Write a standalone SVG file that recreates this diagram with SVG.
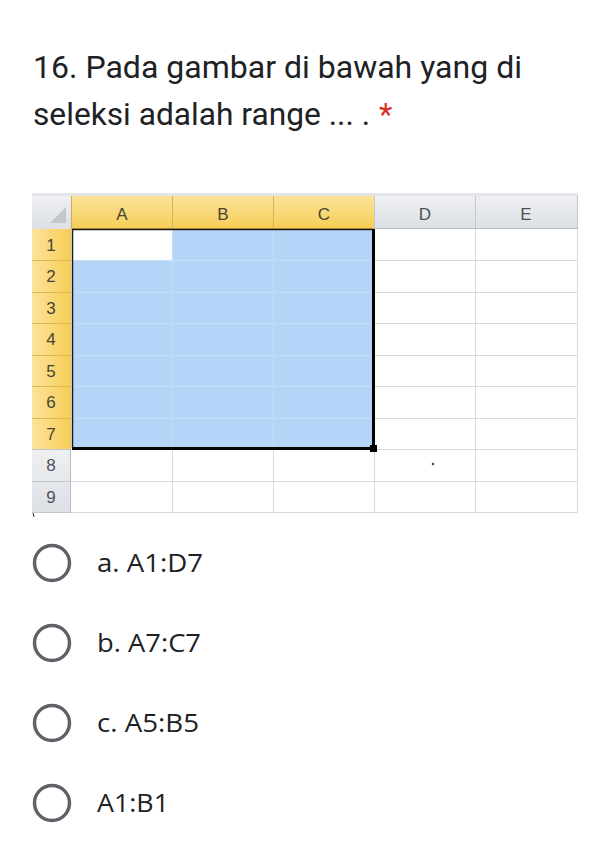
<svg xmlns="http://www.w3.org/2000/svg" width="605" height="853" viewBox="0 0 605 853">
<defs>
<style>
.q{font-family:Roboto,"Noto Sans",sans-serif;font-size:31px;fill:#202124}
.opt{font-family:"Open Sans","Noto Sans",sans-serif;font-size:25px;fill:#202124}
.radio{fill:none;stroke:#5f6368;stroke-width:3.5}
.hd{font-family:"Liberation Sans",Arial,sans-serif;font-size:17px;text-anchor:middle}
.hy{fill:#4a4433}
.hg{fill:#4d5159}
.grid{stroke:#d9dadc;stroke-width:1}
.sgrid{stroke:#c6def6;stroke-width:1}
</style>
<linearGradient id="gy" x1="0" y1="0" x2="0" y2="1">
<stop offset="0" stop-color="#fbe39a"/>
<stop offset="1" stop-color="#f6cd55"/>
</linearGradient>
<linearGradient id="gyr" x1="0" y1="0" x2="1" y2="0">
<stop offset="0" stop-color="#fbe39a"/>
<stop offset="1" stop-color="#f6cd55"/>
</linearGradient>
<linearGradient id="gg" x1="0" y1="0" x2="0" y2="1">
<stop offset="0" stop-color="#eef0f3"/>
<stop offset="1" stop-color="#dcdfe4"/>
</linearGradient>
</defs>
<rect width="605" height="853" fill="#ffffff"/>

<g id="question">
<text class="q" x="33" y="78" textLength="489" lengthAdjust="spacingAndGlyphs">16. Pada gambar di bawah yang di</text>
<text class="q" x="33" y="125" textLength="337" lengthAdjust="spacingAndGlyphs">seleksi adalah range ... .</text>
<text class="q" x="379" y="125" fill="#d93025" style="fill:#d93025">*</text>
</g>

<g id="spreadsheet">
<rect x="32" y="193" width="546" height="3" fill="#e3e5e8"/>
<rect x="32" y="196" width="39" height="33" fill="url(#gg)"/>
<polygon points="50,223 66,223 66,207" fill="#c3c6cb"/>
<rect x="71" y="196" width="303" height="33" fill="url(#gy)"/>
<rect x="374" y="196" width="204" height="33" fill="url(#gg)"/>
<g stroke-width="1">
<line x1="71.5" y1="196" x2="71.5" y2="229" stroke="#c9ad5a"/>
<line x1="172.5" y1="196" x2="172.5" y2="229" stroke="#d2b45c"/>
<line x1="273.5" y1="196" x2="273.5" y2="229" stroke="#d2b45c"/>
<line x1="374.5" y1="196" x2="374.5" y2="229" stroke="#c4c7cc"/>
<line x1="475.5" y1="196" x2="475.5" y2="229" stroke="#c4c7cc"/>
<line x1="577.5" y1="196" x2="577.5" y2="229" stroke="#c4c7cc"/>
<line x1="71" y1="228.5" x2="374" y2="228.5" stroke="#d5a93a"/>
<line x1="374" y1="228.5" x2="578" y2="228.5" stroke="#b9bcc2"/>
</g>
<text class="hd hy" x="122" y="220">A</text>
<text class="hd hy" x="223" y="220">B</text>
<text class="hd hy" x="324" y="220">C</text>
<text class="hd hg" x="425" y="220">D</text>
<text class="hd hg" x="526" y="220">E</text>
<rect x="32" y="229" width="39" height="220" fill="url(#gyr)"/>
<rect x="32" y="449" width="39" height="64" fill="url(#gg)"/>
<g stroke-width="1">
<line x1="32" y1="260.5" x2="71" y2="260.5" stroke="#d9b660"/>
<line x1="32" y1="292.5" x2="71" y2="292.5" stroke="#d9b660"/>
<line x1="32" y1="323.5" x2="71" y2="323.5" stroke="#d9b660"/>
<line x1="32" y1="355.5" x2="71" y2="355.5" stroke="#d9b660"/>
<line x1="32" y1="386.5" x2="71" y2="386.5" stroke="#d9b660"/>
<line x1="32" y1="418.5" x2="71" y2="418.5" stroke="#d9b660"/>
<line x1="32" y1="449.5" x2="71" y2="449.5" stroke="#c4c7cc"/>
<line x1="32" y1="481.5" x2="71" y2="481.5" stroke="#c4c7cc"/>
<line x1="32" y1="512.5" x2="71" y2="512.5" stroke="#c4c7cc"/>
<line x1="70.5" y1="449" x2="70.5" y2="513" stroke="#b9bcc2"/>
</g>
<text class="hd hy" x="51" y="251">1</text>
<text class="hd hy" x="51" y="282">2</text>
<text class="hd hy" x="51" y="314">3</text>
<text class="hd hy" x="51" y="345">4</text>
<text class="hd hy" x="51" y="377">5</text>
<text class="hd hy" x="51" y="408">6</text>
<text class="hd hy" x="51" y="440">7</text>
<text class="hd hg" x="51" y="471">8</text>
<text class="hd hg" x="51" y="503">9</text>
<g class="grid">
<line x1="71" y1="449.5" x2="578" y2="449.5"/>
<line x1="71" y1="481.5" x2="578" y2="481.5"/>
<line x1="71" y1="512.5" x2="578" y2="512.5"/>
<line x1="374" y1="260.5" x2="578" y2="260.5"/>
<line x1="374" y1="292.5" x2="578" y2="292.5"/>
<line x1="374" y1="323.5" x2="578" y2="323.5"/>
<line x1="374" y1="355.5" x2="578" y2="355.5"/>
<line x1="374" y1="386.5" x2="578" y2="386.5"/>
<line x1="374" y1="418.5" x2="578" y2="418.5"/>
<line x1="172.5" y1="449" x2="172.5" y2="513"/>
<line x1="273.5" y1="449" x2="273.5" y2="513"/>
<line x1="374.5" y1="449" x2="374.5" y2="513"/>
<line x1="475.5" y1="229" x2="475.5" y2="513"/>
<line x1="577.5" y1="229" x2="577.5" y2="513"/>
</g>
<rect x="72" y="229" width="301" height="219" fill="#b4d5f7"/>
<rect x="73" y="230" width="99" height="30" fill="#ffffff"/>
<g class="sgrid">
<line x1="172.5" y1="229" x2="172.5" y2="448"/>
<line x1="273.5" y1="229" x2="273.5" y2="448"/>
<line x1="73" y1="260.5" x2="372" y2="260.5"/>
<line x1="73" y1="292.5" x2="372" y2="292.5"/>
<line x1="73" y1="323.5" x2="372" y2="323.5"/>
<line x1="73" y1="355.5" x2="372" y2="355.5"/>
<line x1="73" y1="386.5" x2="372" y2="386.5"/>
<line x1="73" y1="418.5" x2="372" y2="418.5"/>
</g>
<path d="M72.5,448 V229.5 H373" fill="none" stroke="#1a1a1a" stroke-width="1.5"/>
<path d="M373.5,229 V448.5 H72" fill="none" stroke="#000000" stroke-width="3"/>
<rect x="370" y="445" width="7" height="7" fill="#000000"/>
<circle cx="433" cy="464" r="1.3" fill="#3b4a8c"/>
<line x1="33" y1="513" x2="34" y2="517" stroke="#333" stroke-width="1"/>
</g>

<g id="option-a">
<circle class="radio" cx="52" cy="563" r="17.5"/>
<text class="opt" x="97" y="572" textLength="106" lengthAdjust="spacingAndGlyphs">a. A1:D7</text>
</g>
<g id="option-b">
<circle class="radio" cx="52" cy="643" r="17.5"/>
<text class="opt" x="97" y="652" textLength="104" lengthAdjust="spacingAndGlyphs">b. A7:C7</text>
</g>
<g id="option-c">
<circle class="radio" cx="52" cy="723" r="17.5"/>
<text class="opt" x="97" y="732" textLength="102" lengthAdjust="spacingAndGlyphs">c. A5:B5</text>
</g>
<g id="option-d">
<circle class="radio" cx="52" cy="803" r="17.5"/>
<text class="opt" x="97" y="812" textLength="72" lengthAdjust="spacingAndGlyphs">A1:B1</text>
</g>
</svg>
